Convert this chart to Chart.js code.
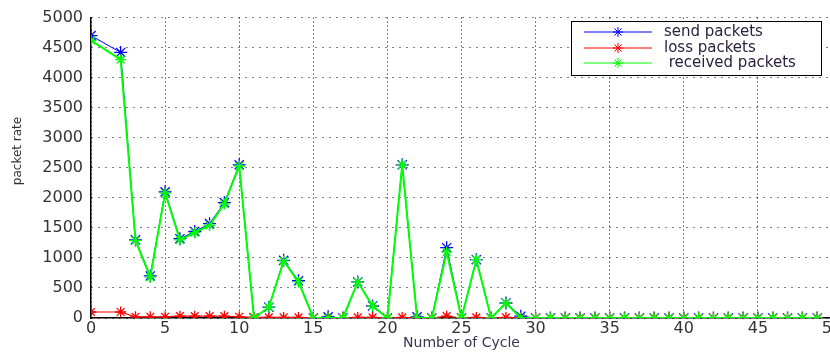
<!DOCTYPE html>
<html>
<head>
<meta charset="utf-8">
<script src="https://cdn.jsdelivr.net/npm/chart.js"></script>
<style>
  html, body {
    margin: 0;
    padding: 0;
    background: #ffffff;
    overflow: hidden;
  }
  #wrap {
    width: 830px;
    height: 352px;
    overflow: hidden;
  }
</style>
</head>
<body>
<div id="wrap">
  <canvas id="packetChart" width="845" height="352"></canvas>
</div>
<script>
// Cycle numbers (no sample at cycle 1)
const cycles = [0, 2, 3, 4, 5, 6, 7, 8, 9, 10, 11, 12, 13, 14, 15, 16, 17, 18, 19, 20,
  21, 22, 23, 24, 25, 26, 27, 28, 29, 30, 31, 32, 33, 34, 35, 36, 37, 38, 39, 40,
  41, 42, 43, 44, 45, 46, 47, 48, 49];

const sendPackets = [4700, 4420, 1300, 700, 2100, 1320, 1440, 1570, 1920, 2550, 0, 180, 960, 620, 0, 20, 0, 600, 200, 0,
  2550, 20, 0, 1170, 0, 970, 0, 250, 30, 0, 0, 0, 0, 0, 0, 0, 0, 0, 0, 0,
  0, 0, 0, 0, 0, 0, 0, 0, 0];

const lossPackets = [100, 100, 20, 20, 20, 30, 30, 30, 30, 20, 10, 10, 10, 10, 0, 0, 0, 10, 10, 0,
  10, 0, 0, 30, 0, 10, 0, 10, 0, 0, 0, 0, 0, 0, 0, 0, 0, 0, 0, 0,
  0, 0, 0, 0, 0, 0, 0, 0, 0];

const receivedPackets = [4620, 4300, 1290, 680, 2080, 1300, 1420, 1540, 1900, 2530, 0, 180, 950, 600, 0, 0, 0, 600, 200, 0,
  2550, 0, 0, 1100, 0, 970, 0, 250, 0, 0, 0, 0, 0, 0, 0, 0, 0, 0, 0, 0,
  0, 0, 0, 0, 0, 0, 0, 0, 0];

const yTicks = [0, 500, 1000, 1500, 2000, 2500, 3000, 3500, 4000, 4500, 5000];

const seriesNames = ["send packets", "loss packets", " received packets"];
const seriesColors = ["#0000ff", "#ff0000", "#00ff00"];

// helper to pair cycles with values
function toPoints(values) {
  return cycles.map((c, i) => ({ x: c, y: values[i] }));
}

// draws the boxed legend in the top right, like the original figure
const boxLegend = {
  id: "boxLegend",
  afterDraw(chart) {
    const ctx = chart.ctx;
    const left = 571, top = 21, width = 250, height = 54;
    ctx.save();
    ctx.fillStyle = "#ffffff";
    ctx.fillRect(left, top, width, height);
    ctx.strokeStyle = "#000000";
    ctx.lineWidth = 1;
    ctx.strokeRect(left + 0.5, top + 0.5, width, height);

    const rows = [32, 48, 63];
    rows.forEach((y, i) => {
      ctx.strokeStyle = seriesColors[i];
      ctx.lineWidth = 1;
      ctx.beginPath();
      ctx.moveTo(584, y);
      ctx.lineTo(652, y);
      ctx.stroke();
      Chart.helpers.drawPoint(ctx, { pointStyle: "star", radius: 5, borderWidth: 1.5 }, 618, y);
      ctx.fillStyle = "#2b2240";
      ctx.font = "15px 'DejaVu Sans'";
      ctx.textBaseline = "middle";
      ctx.fillText(seriesNames[i], 664, y);
    });

    // y axis title, placed where the original has it
    ctx.translate(18, 151);
    ctx.rotate(-Math.PI / 2);
    ctx.fillStyle = "#333333";
    ctx.font = "12px 'Liberation Sans Narrow', 'DejaVu Sans'";
    ctx.textAlign = "center";
    ctx.textBaseline = "middle";
    ctx.fillText("packet rate", 0, 0);
    ctx.restore();
  },
};

function makeDataset(index, values, lineWidth, radius, order) {
  return {
    label: seriesNames[index],
    data: toPoints(values),
    borderColor: seriesColors[index],
    backgroundColor: seriesColors[index],
    borderWidth: lineWidth,
    pointStyle: "star",
    pointRadius: radius,
    pointBorderWidth: 1.3,
    pointBorderColor: seriesColors[index],
    tension: 0,
    order: order,
  };
}

const chartConfig = {
  type: "line",
  data: {
    datasets: [
      makeDataset(0, sendPackets, 1, 6.5, 3),
      makeDataset(1, lossPackets, 1.2, 5.5, 2),
      makeDataset(2, receivedPackets, 2, 5.5, 1),
    ],
  },
  options: {
    responsive: false,
    animation: false,
    events: [],
    layout: {
      padding: { top: 15, right: 13, left: 0, bottom: 0 },
    },
    plugins: {
      legend: { display: false },
      tooltip: { enabled: false },
    },
    scales: {
      x: {
        type: "linear",
        min: 0,
        max: 50,
        ticks: {
          stepSize: 5,
          color: "#333333",
          font: { family: "DejaVu Sans", size: 16 },
          padding: 1,
          maxRotation: 0,
        },
        grid: {
          color: "#000000",
          lineWidth: 1,
          drawTicks: false,
        },
        border: { color: "#000000", width: 1.5, dash: [1, 3] },
        title: {
          display: true,
          text: "Number of Cycle",
          color: "#3a3550",
          font: { family: "DejaVu Sans", size: 14 },
          padding: { top: 0, bottom: 0 },
        },
        afterFit(scale) {
          scale.height = 34;
        },
      },
      y: {
        min: 0,
        max: 5000,
        afterBuildTicks(scale) {
          scale.ticks = yTicks.map((v) => ({ value: v }));
        },
        ticks: {
          color: "#333333",
          font: { family: "DejaVu Sans", size: 16 },
          padding: 8,
          callback: (value) => String(value),
        },
        grid: {
          color: "#000000",
          lineWidth: 1,
          drawTicks: false,
        },
        border: { color: "#000000", width: 1.5, dash: [1, 6] },
        afterFit(scale) {
          scale.width = 91;
        },
      },
    },
  },
  plugins: [boxLegend],
};

const packetChart = new Chart(document.getElementById("packetChart"), chartConfig);
</script>
</body>
</html>
